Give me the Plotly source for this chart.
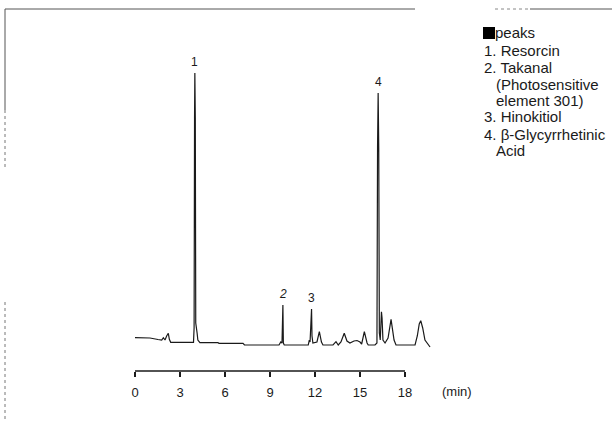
import plotly.graph_objects as go

# ---------------- data ----------------
time_min = [0.00, 1.00, 1.53, 1.78, 1.89, 2.00, 2.11, 2.22, 2.29, 2.38,
            3.90, 3.94, 3.97, 3.99, 4.02, 4.05, 4.09, 4.14, 4.19, 4.33,
            5.53, 5.60, 7.20, 7.30, 9.60, 9.72, 9.80, 9.84, 9.86, 9.89, 9.95,
            11.55, 11.62, 11.67, 11.72, 11.77, 11.80, 11.86, 12.13, 12.29,
            12.43, 12.53, 13.20, 13.40, 13.55, 13.73, 13.95, 14.13, 14.33,
            14.60, 14.80, 15.00, 15.11, 15.29, 15.47, 15.55, 16.00, 16.13,
            16.17, 16.21, 16.25, 16.29, 16.35, 16.43, 16.47, 16.53, 16.67,
            16.87, 17.07, 17.27, 17.40, 18.67, 18.82, 18.95, 19.05, 19.18,
            19.33, 19.55, 19.67]
signal = [10.3, 10.0, 8.5, 8.0, 10.3, 8.0, 12.0, 14.7, 8.7, 5.7,
          5.7, 20.0, 230.0, 275.0, 230.0, 25.0, 16.0, 15.0, 8.0, 5.3,
          5.3, 4.7, 4.7, 3.0, 3.0, 6.0, 5.0, 30.0, 43.0, 5.0, 3.0,
          3.0, 8.0, 6.0, 20.0, 39.0, 12.0, 5.0, 6.0, 16.3,
          6.0, 3.0, 3.0, 6.3, 3.0, 6.0, 14.7, 7.0, 5.0,
          7.0, 7.5, 6.0, 4.0, 16.3, 5.0, 3.0, 3.0, 5.0,
          200.0, 255.0, 200.0, 15.0, 8.0, 36.3, 30.0, 8.0, 5.0,
          10.0, 28.7, 8.0, 3.0, 3.0, 12.0, 24.0, 27.3, 20.0,
          8.0, 3.0, 1.0]

peak_labels = ["1", "<i>2</i>", "3", "4"]
peak_times = [3.99, 9.86, 11.77, 16.21]
peak_heights = [275.0, 43.0, 39.0, 255.0]

x_ticks = [0, 3, 6, 9, 12, 15, 18]
x_unit = "(min)"

legend_title = "peaks"
legend_lines = ["1. Resorcin", "2. Takanal", "(Photosensitive",
                "element 301)", "3. Hinokitiol", "4. \u03B2-Glycyrrhetinic", "Acid"]
legend_indent = [0, 0, 1, 1, 0, 0, 1]

# ---------------- layout geometry ----------------
W, H = 612, 421
ML, MR, MT, MB = 135, 177, 60, 50
PW, PH = W - ML - MR, H - MT - MB


def px(q):
    return (q - ML) / PW


def py(p):
    return (H - MB - p) / PH


INK = "#1a1a1a"
FONT = "Liberation Sans, Arial, Helvetica, sans-serif"

fig = go.Figure()
fig.add_trace(go.Scatter(x=time_min, y=signal, mode="lines",
                         line=dict(color=INK, width=1.2), hoverinfo="skip",
                         showlegend=False))

annotations = []
for lab, t, h in zip(peak_labels, peak_times, peak_heights):
    annotations.append(dict(x=t, y=h, xref="x", yref="y", text=lab,
                            showarrow=False, yanchor="middle", yshift=11,
                            font=dict(family=FONT, size=12, color=INK)))

annotations.append(dict(x=px(457), y=py(391), xref="paper", yref="paper",
                        text=x_unit, showarrow=False, xanchor="center",
                        yanchor="middle",
                        font=dict(family=FONT, size=13, color=INK)))

# legend block
annotations.append(dict(x=px(493), y=py(33), xref="paper", yref="paper",
                        text=legend_title, showarrow=False, xanchor="left",
                        yanchor="middle",
                        font=dict(family=FONT, size=15, color=INK)))
line_y = [50, 67, 84, 100, 117, 134, 150]
for txt, ind, yy in zip(legend_lines, legend_indent, line_y):
    annotations.append(dict(x=px(482 + 12 * ind), y=py(yy), xref="paper",
                            yref="paper", text=txt, showarrow=False,
                            xanchor="left", yanchor="middle",
                            font=dict(family=FONT, size=15, color=INK)))

shapes = [
    # x axis line (0 to 18 min)
    dict(type="line", xref="x", yref="paper", x0=0, x1=18, y0=0, y1=0,
         line=dict(color=INK, width=1.6)),
    # black square before "peaks"
    dict(type="rect", xref="paper", yref="paper", x0=px(483), x1=px(495),
         y0=py(39), y1=py(27), fillcolor="black", line=dict(width=0)),
    # scanned frame remnants
    dict(type="line", xref="paper", yref="paper", x0=px(5), x1=px(415),
         y0=py(9), y1=py(9), line=dict(color="#555", width=1)),
    dict(type="line", xref="paper", yref="paper", x0=px(530), x1=px(612),
         y0=py(9), y1=py(9), line=dict(color="#555", width=1)),
    dict(type="line", xref="paper", yref="paper", x0=px(495), x1=px(528),
         y0=py(9), y1=py(9), line=dict(color="#888", width=1, dash="dot")),
    dict(type="line", xref="paper", yref="paper", x0=px(5), x1=px(5),
         y0=py(9), y1=py(110), line=dict(color="#555", width=1)),
    dict(type="line", xref="paper", yref="paper", x0=px(5), x1=px(5),
         y0=py(110), y1=py(170), line=dict(color="#777", width=1, dash="dot")),
    dict(type="line", xref="paper", yref="paper", x0=px(5), x1=px(5),
         y0=py(302), y1=py(421), line=dict(color="#777", width=1, dash="dot")),
]

fig.update_layout(
    width=W, height=H,
    margin=dict(l=ML, r=MR, t=MT, b=MB, pad=0),
    paper_bgcolor="white", plot_bgcolor="white",
    xaxis=dict(range=[0, 20], tickvals=x_ticks, ticktext=[str(v) for v in x_ticks],
               ticks="outside", ticklen=5, tickwidth=1.5, tickcolor=INK,
               ticklabelstandoff=4,
               showline=False, showgrid=False, zeroline=False,
               tickfont=dict(family=FONT, size=13, color=INK)),
    yaxis=dict(range=[-23, 288], visible=False, showgrid=False, zeroline=False),
    annotations=annotations,
    shapes=shapes,
    showlegend=False,
)

fig.write_html("out.html")
